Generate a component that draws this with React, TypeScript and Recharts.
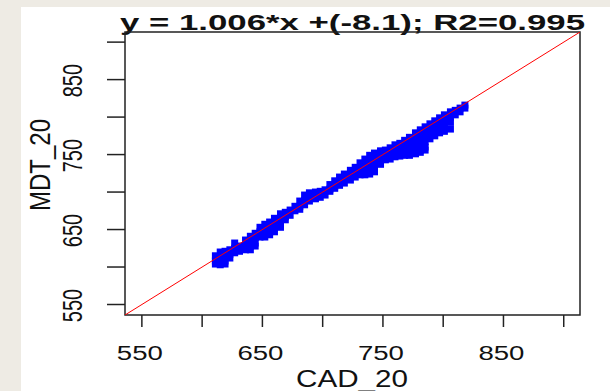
import { ScatterChart, Scatter, XAxis, YAxis, ReferenceArea } from 'recharts';

const cad20: number[] = [
  611, 611, 611,
  615, 615, 615, 615,
  619, 619, 619, 619,
  623, 623, 623,
  627, 627, 627,
  631, 631,
  636, 636, 636,
  640, 640, 640, 640,
  644, 644, 644, 644,
  648, 648, 648,
  652, 652, 652, 652,
  656, 656, 656, 656,
  660, 660, 660, 660,
  665, 665, 665, 665,
  669, 669, 669,
  673, 673,
  677, 677,
  681, 681, 681,
  685, 685, 685,
  689, 689, 689,
  694, 694, 694,
  698, 698,
  702, 702,
  706, 706, 706,
  710, 710, 710,
  714, 714, 714,
  718, 718, 718,
  723, 723, 723,
  727, 727, 727,
  731, 731, 731, 731,
  735, 735, 735, 735,
  739, 739, 739, 739, 739,
  743, 743, 743, 743, 743,
  748, 748, 748, 748,
  752, 752, 752,
  756, 756, 756,
  760, 760, 760, 760,
  764, 764, 764, 764,
  768, 768, 768, 768,
  772, 772, 772, 772, 772,
  777, 777, 777, 777, 777,
  781, 781, 781, 781, 781, 781,
  785, 785, 785, 785, 785, 785,
  789, 789, 789, 789,
  793, 793, 793, 793,
  797, 797, 797, 797,
  801, 801, 801, 801,
  806, 806, 806, 806,
  810, 810,
  814, 814,
  818, 818,
];

const mdt20: number[] = [
  615, 608, 604,
  620, 613, 607, 603,
  621, 615, 608, 604,
  623, 617, 612,
  632, 625, 619,
  628, 621,
  636, 629, 623,
  641, 635, 628, 623,
  645, 639, 632, 628,
  653, 647, 640,
  657, 651, 644, 640,
  660, 653, 647, 643,
  665, 659, 652, 647,
  671, 664, 657, 653,
  673, 667, 663,
  676, 669,
  681, 675,
  688, 681, 677,
  696, 689, 683,
  699, 692, 688,
  700, 695, 691,
  701, 693,
  703, 696,
  710, 704, 701,
  715, 708, 705,
  720, 713, 709,
  724, 717, 712,
  729, 723, 716,
  733, 727, 720,
  739, 732, 725, 723,
  744, 737, 731, 723,
  749, 743, 736, 729, 724,
  752, 745, 739, 732, 727,
  755, 748, 742, 737,
  756, 749, 743,
  759, 752, 744,
  763, 756, 749, 747,
  765, 759, 752, 748,
  769, 763, 756, 749,
  773, 767, 760, 753, 749,
  779, 772, 765, 759, 751,
  783, 776, 769, 763, 756, 753,
  787, 780, 774, 767, 760, 756,
  791, 784, 777, 771,
  795, 788, 781, 775,
  799, 792, 785, 779,
  803, 796, 789, 781,
  807, 800, 793, 784,
  809, 803,
  812, 807,
  816, 812,
];

const axisTicks: number[] = [550, 600, 650, 700, 750, 800, 850, 900];
const labelledTicks: number[] = [550, 650, 750, 850];
const axisRange: [number, number] = [536, 913.5];
const fitTitle = 'y = 1.006*x +(-8.1); R2=0.995';
const xTitle = 'CAD_20';
const yTitle = 'MDT_20';

const points = cad20.map((x, i) => ({ x, y: mdt20[i] }));
// 1:1 line across the plotting range
const oneToOne = [
  { x: axisRange[0], y: axisRange[0] },
  { x: axisRange[1], y: axisRange[1] },
];

const FONT = "'Liberation Sans', Arial, sans-serif";
const INK = '#111';

function XTick(props: any) {
  const { x, payload } = props;
  if (!labelledTicks.includes(payload.value)) return <g />;
  return (
    <text x={x - 2} y={353} textAnchor="middle" fontSize={20} fontFamily={FONT} fill={INK}
      textLength={46} lengthAdjust="spacingAndGlyphs">
      {payload.value}
    </text>
  );
}

function YTick(props: any) {
  const { y, payload } = props;
  if (!labelledTicks.includes(payload.value)) return <g />;
  return (
    <text transform={`translate(61, ${y + 1}) scale(1.4, 1) rotate(-90)`} textAnchor="middle"
      fontSize={20} fontFamily={FONT} fill={INK}>
      {payload.value}
    </text>
  );
}

function Square(props: any) {
  const { cx, cy } = props;
  return <rect x={cx - 3.5} y={cy - 3.5} width={7} height={7} fill="#0000FF" />;
}

const NoDot = () => <g />;

export default function App() {
  return (
    <div style={{ position: 'absolute', left: 0, top: 0, width: 610, height: 391, background: '#EEEBE4' }}>
      <div style={{ position: 'absolute', left: 21, top: 7, width: 589, height: 384, background: '#fff' }}>
        <ScatterChart width={589} height={384} margin={{ top: 25, right: 30, bottom: 0, left: 0 }}>
          <XAxis type="number" dataKey="x" domain={axisRange} ticks={axisTicks} interval={0}
            allowDataOverflow height={76} axisLine={false} tickSize={12} tickMargin={0}
            tickLine={{ stroke: '#222', strokeWidth: 1.5 }} tick={<XTick />} />
          <YAxis type="number" dataKey="y" domain={axisRange} ticks={axisTicks} interval={0}
            allowDataOverflow width={104} axisLine={false} tickSize={18} tickMargin={0}
            tickLine={{ stroke: '#222', strokeWidth: 1.5 }} tick={<YTick />} />
          <ReferenceArea x1={axisRange[0]} x2={axisRange[1]} y1={axisRange[0]} y2={axisRange[1]}
            fill="none" fillOpacity={0} stroke="#222" strokeWidth={1.5} />
          <Scatter data={points} shape={<Square />} isAnimationActive={false} />
          <Scatter data={oneToOne} line={{ stroke: '#FF0000', strokeWidth: 1 }} shape={<NoDot />}
            isAnimationActive={false} />
          <text x={331.5} y={23} textAnchor="middle" fontSize={22.5} fontWeight="bold" fontFamily={FONT}
            fill={INK} textLength={465} lengthAdjust="spacingAndGlyphs">
            {fitTitle}
          </text>
          <text x={331} y={380} textAnchor="middle" fontSize={24} fontFamily={FONT} fill={INK}
            textLength={112} lengthAdjust="spacingAndGlyphs">
            {xTitle}
          </text>
          <text transform="translate(29, 158) scale(1.25, 1) rotate(-90)" textAnchor="middle"
            fontSize={24} fontFamily={FONT} fill={INK}>
            {yTitle}
          </text>
        </ScatterChart>
      </div>
    </div>
  );
}
